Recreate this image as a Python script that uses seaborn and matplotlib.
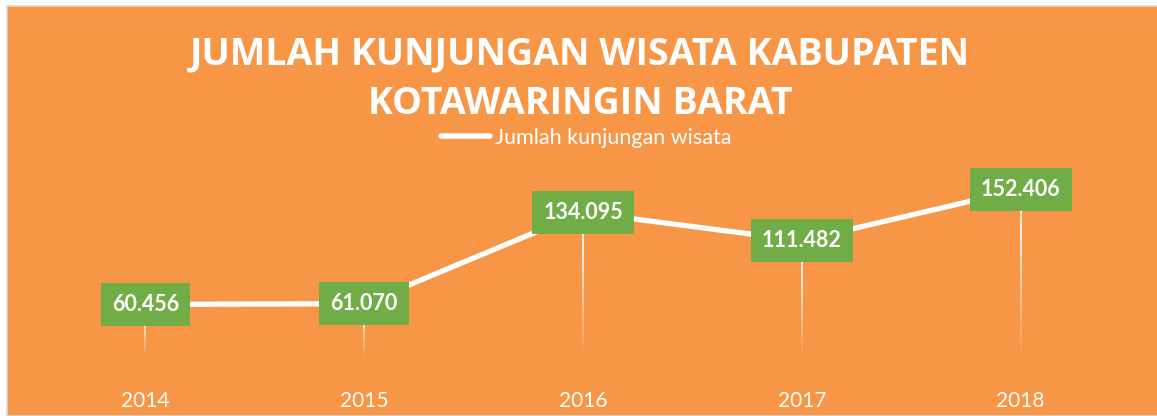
import pandas as pd
import seaborn as sns
import matplotlib.pyplot as plt
from matplotlib.patches import Rectangle

# data
years = ['2014', '2015', '2016', '2017', '2018']
visits = [60456, 61070, 134095, 111482, 152406]
value_labels = ['60.456', '61.070', '134.095', '111.482', '152.406']
series_name = 'Jumlah kunjungan wisata'
title = 'JUMLAH KUNJUNGAN WISATA KABUPATEN\nKOTAWARINGIN BARAT'

orange = '#F79646'
green = '#70AD47'

sns.set_theme(style='white')
plt.rcParams['font.family'] = ['Lato', 'DejaVu Sans']

df = pd.DataFrame({'year': years, 'visits': visits})

fig = plt.figure(figsize=(11.57, 4.16), dpi=100, facecolor='white')
# orange chart area with thin grey border
fig.patches.append(Rectangle((7 / 1157, 0), 1.0, 1 - 6 / 416, transform=fig.transFigure,
                             facecolor=orange, edgecolor='#D9D9D9', linewidth=1.2, zorder=-5))

ax = fig.add_axes([36 / 1157, 36 / 416, (1130 - 36) / 1157, 200 / 416])
ax.set_facecolor('none')
ax.patch.set_alpha(0)

sns.lineplot(data=df, x='year', y='visits', ax=ax, color='white', linewidth=3.8,
             sort=False, label=series_name, zorder=3)

# fading drop lines
n_seg = 20
for i, v in enumerate(visits):
    bottom = 0.12 * 160000
    step = (v - bottom) / n_seg
    for k in range(n_seg):
        y0 = bottom + k * step
        ax.plot([i, i], [y0, y0 + step], color='white', linewidth=1.2,
                alpha=min(1.0, 0.05 + k / n_seg * 1.4), solid_capstyle='butt', zorder=2)

for i, (v, lab) in enumerate(zip(visits, value_labels)):
    ax.text(i, v, lab, ha='center', va='center', color='white', fontsize=15.5,
            fontweight='bold', zorder=5,
            bbox=dict(boxstyle='square,pad=0.52', facecolor=green, edgecolor='none'))

ax.set_xlim(-0.5, 4.5)
ax.set_ylim(0, 160000)
ax.set_xlabel('')
ax.set_ylabel('')
ax.set_yticks([])
ax.tick_params(axis='x', colors='white', labelsize=15, length=0, pad=8)
sns.despine(ax=ax, left=True, bottom=True)

leg = ax.legend(loc='center', bbox_to_anchor=(586 / 1157, 1 - 138 / 416),
                bbox_transform=fig.transFigure, frameon=False, fontsize=15.5,
                labelcolor='white', handlelength=2.3, handletextpad=0.2)
for line in leg.get_lines():
    line.set_linewidth(4)

fig.text(580 / 1157, 1 - 79 / 416, title, ha='center', va='center', color='white',
         fontsize=27, fontweight='bold', family=['Open Sans', 'DejaVu Sans'],
         linespacing=1.4)

fig.savefig('out.png', dpi=100, facecolor=fig.get_facecolor())
